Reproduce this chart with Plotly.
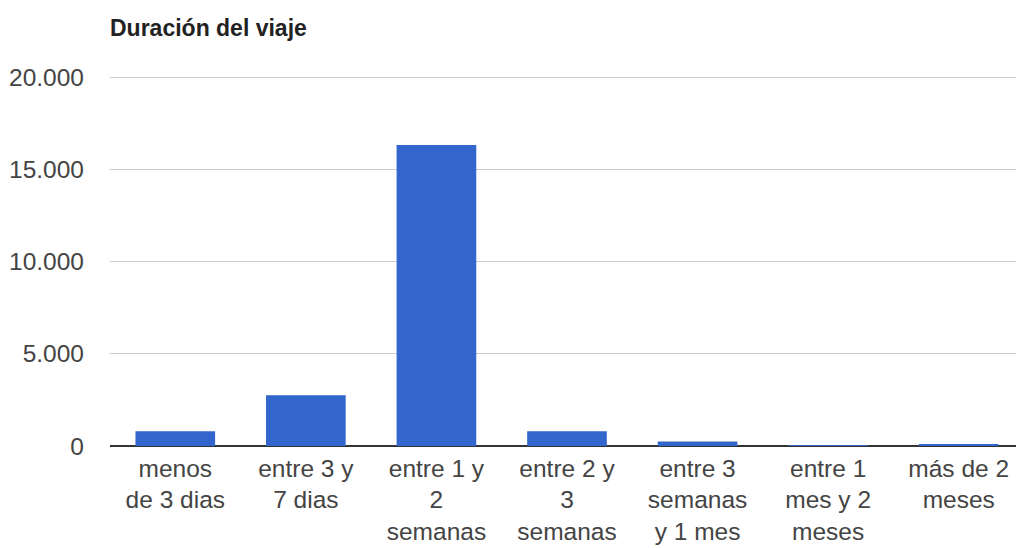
import plotly.graph_objects as go

categories = [
    "menos<br>de 3 dias",
    "entre 3 y<br>7 dias",
    "entre 1 y<br>2<br>semanas",
    "entre 2 y<br>3<br>semanas",
    "entre 3<br>semanas<br>y 1 mes",
    "entre 1<br>mes y 2<br>meses",
    "más de 2<br>meses",
]
values = [800, 2750, 16350, 800, 250, 30, 80]
y_ticks = [0, 5000, 10000, 15000, 20000]
title_text = "Duración del viaje"

W, H = 1016, 540

fig = go.Figure(
    go.Bar(x=categories, y=values, marker=dict(color="#3366cc", line=dict(width=0)))
)

fig.update_layout(
    width=W,
    height=H,
    margin=dict(l=102, r=0, t=66, b=102),
    paper_bgcolor="white",
    plot_bgcolor="white",
    separators=",.",
    bargap=0.39,
    font=dict(family="Arial, Liberation Sans, sans-serif", size=24.5, color="#444444"),
    title=dict(
        text="<b>" + title_text + "</b>",
        x=102 / W,
        xanchor="left",
        xref="container",
        y=1 - 20 / H,
        yanchor="middle",
        yref="container",
        font=dict(family="Arial, Liberation Sans, sans-serif", size=23, color="#222222"),
    ),
    showlegend=False,
)

fig.update_yaxes(
    range=[0, 20200],
    tickvals=y_ticks,
    tickformat=",",
    showgrid=True,
    gridcolor="#cccccc",
    gridwidth=1,
    zeroline=True,
    zerolinecolor="#333333",
    zerolinewidth=2,
    ticks="",
    ticklabelstandoff=25,
    tickfont=dict(size=24.5, color="#444444"),
)
fig.update_xaxes(
    showgrid=False,
    showline=False,
    ticks="",
    tickangle=0,
    ticklabelstandoff=5,
    tickfont=dict(size=24.5, color="#444444"),
)

fig.write_html("out.html")
